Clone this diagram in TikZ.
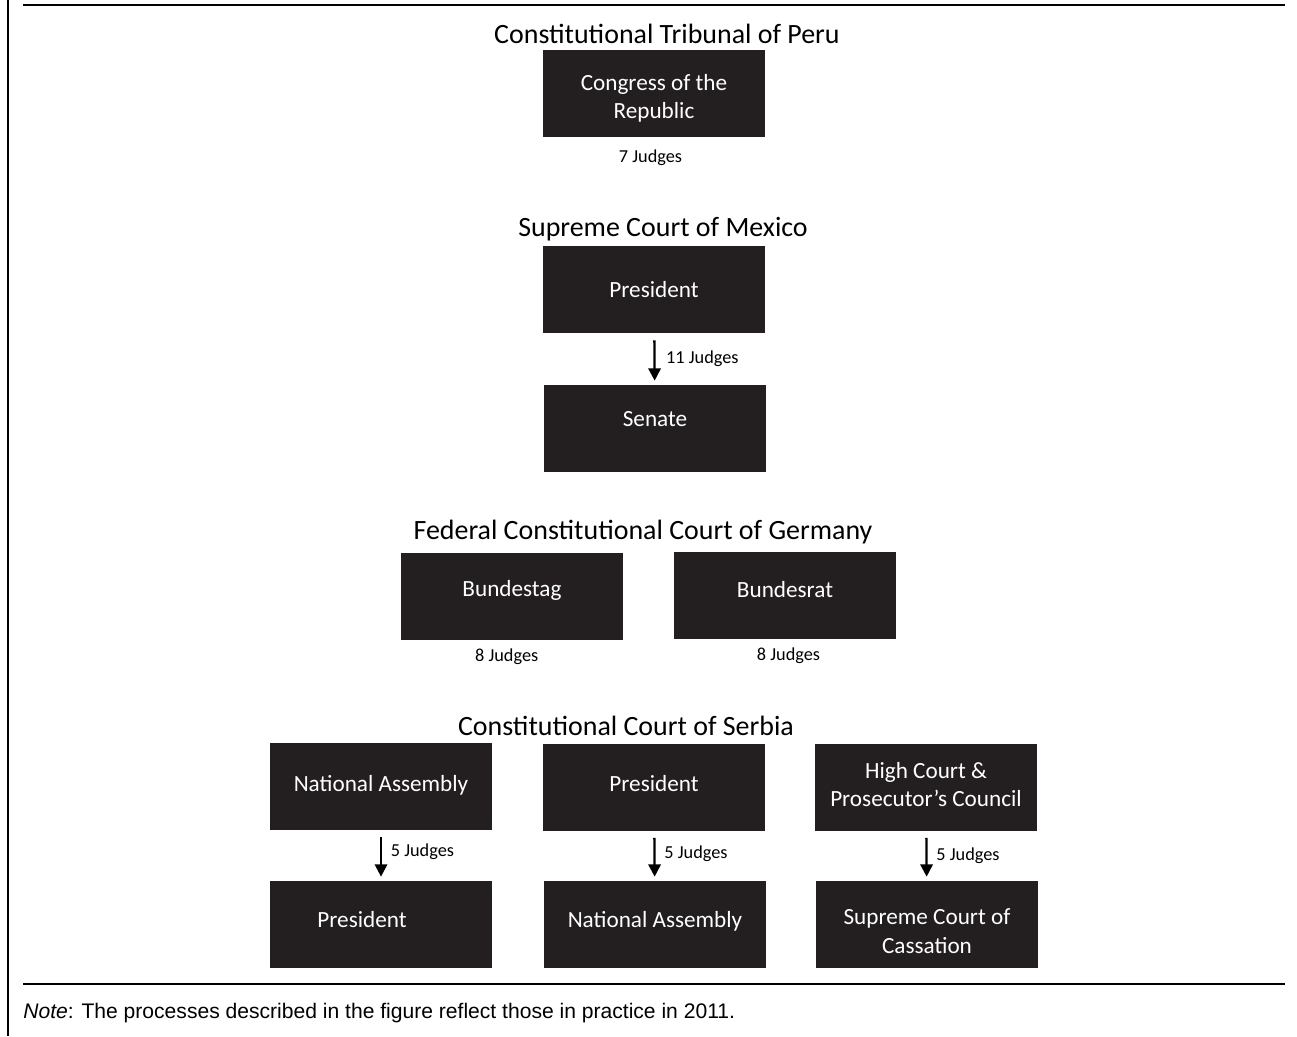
\documentclass[tikz,border=0pt]{standalone}
\usepackage{fontspec}
\setmainfont{Carlito}
\newfontfamily\notefont{Liberation Sans}
\usepackage{tikz}
\usetikzlibrary{arrows.meta}
\usetikzlibrary{positioning}
\definecolor{boxgray}{HTML}{231F20}

\begin{document}
\begin{tikzpicture}[x=0.02cm,y=-0.02cm,
  >={Triangle[width=7pt,length=7pt]},
  court/.style={font=\fontsize{15.9}{19}\selectfont,inner sep=0pt,anchor=base},
  body/.style={fill=boxgray,text=white,minimum width=4.44cm,minimum height=1.74cm,inner sep=2pt,align=center,font=\fontsize{13.2}{16}\selectfont},
  lifted/.style={text height=9pt,text depth=#1},
  judges/.style={font=\fontsize{10.4}{12}\selectfont,inner sep=0pt},
  pick/.style={->,line width=1.3pt,shorten <=4pt,shorten >=2pt},
  rule/.style={line width=1.4pt}]
      \useasboundingbox (0,0) rectangle (1297,1036);

      % frame
      \draw[rule] (8,0) -- (8,1036);
      \draw[rule] (23,5) -- (1285,5);
      \draw[rule] (23,984) -- (1285,984);

      % Peru
      \node [court] (peru) at (667,43) {Constitutional Tribunal of Peru};
      \node [body] (congress) at (654,93.5) {Congress of the\\Republic\\[-19.4pt]};
      \node [judges,below=7pt of congress.south,xshift=-2pt] (peruj) {7 Judges};

      % Mexico
      \node [court] (mexico) at (663,236) {Supreme Court of Mexico};
      \node [body] (mxpres) at (654,289.5) {President};
      \node [body,lifted=10.6pt] (mxsen) at (655,428) {Senate};
      \draw [pick] (mxpres) -- (mxsen) node [judges,midway,right=6pt] (mxj) {11 Judges};

      % Germany
      \node [court] (germany) at (643,539) {Federal Constitutional Court of Germany};
      \node [body,lifted=8.4pt] (btag) at (512,596) {Bundestag};
      \node [body,lifted=6pt] (brat) at (785,595) {Bundesrat};
      \node [judges,below=5pt of btag.south,xshift=-3pt] (btagj) {8 Judges};
      \node [judges,below=5pt of brat.south,xshift=2pt] (bratj) {8 Judges};

      % Serbia
      \node [court] (serbia) at (626,735) {Constitutional Court of Serbia};
      \node [body,lifted=3.2pt] (assembly) at (381,786.5) {National Assembly};
      \node [body,lifted=3.8pt] (srpres) at (654,787) {President};
      \node [body] (council) at (926,787) {High Court \&\\Prosecutor’s Council\\[-13.2pt]};
      \node [body,lifted=5pt] (srpres2) at (381,924) {\hspace*{-21.6pt}President};
      \node [body,lifted=5pt] (assembly2) at (655,924) {National Assembly};
      \node [body] (cassation) at (927,924) {Supreme Court of\\Cassation\\[-24pt]};
      \draw [pick] (assembly) -- (srpres2) node [judges,midway,right=5pt,yshift=2pt] (srj1) {5 Judges};
      \draw [pick] (srpres) -- (assembly2) node [judges,midway,right=5pt,yshift=1pt] (srj2) {5 Judges};
      \draw [pick] (council) -- (cassation) node [judges,midway,right=5pt] (srj3) {5 Judges};

      % note
      \node [anchor=west,inner sep=0pt,font=\notefont\fontsize{12}{14}\selectfont] (note) at (23,1013) {{\itshape Note}: The processes described in the figure reflect those in practice in 2011.};

  \end{tikzpicture}
\end{document}
